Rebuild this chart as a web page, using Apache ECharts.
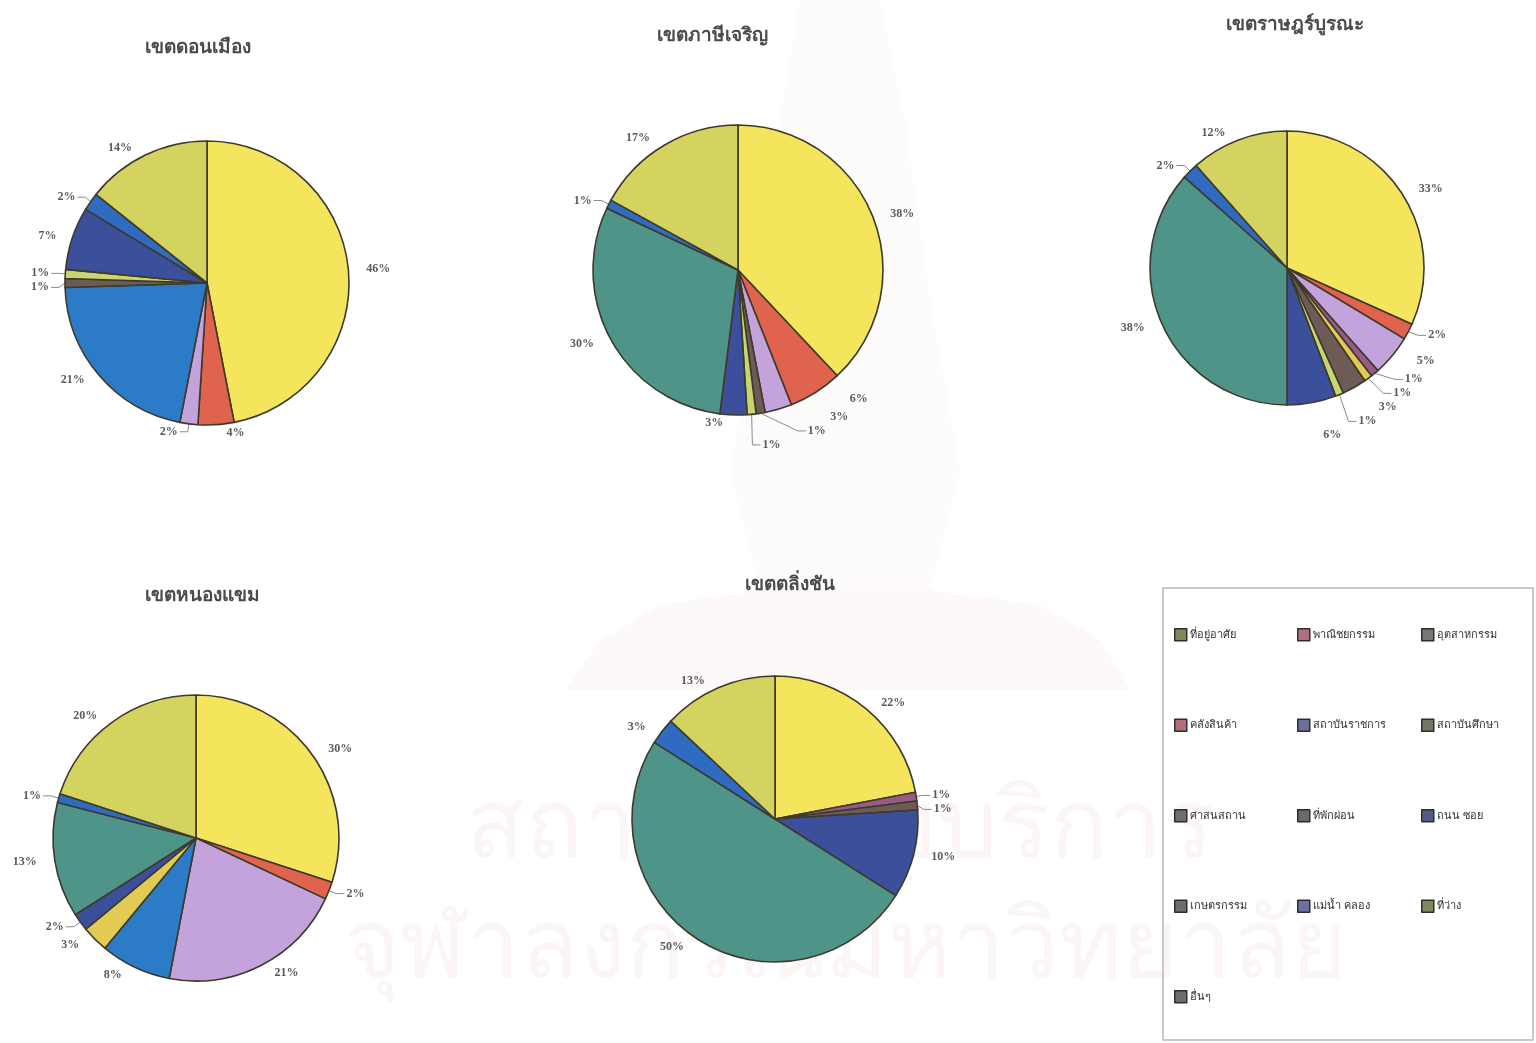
<!DOCTYPE html>
<html>
<head>
<meta charset="utf-8">
<script src="https://cdn.jsdelivr.net/npm/echarts@6/dist/echarts.min.js"></script>
<style>
  html, body { margin: 0; padding: 0; background: #ffffff; }
  #chart { width: 1536px; height: 1043px; }
</style>
</head>
<body>
<div id="chart"></div>
<script>
// Land-use categories (legend order = slice order, clockwise from 12 o'clock)
const categories = [
  'ที่อยู่อาศัย', 'พาณิชยกรรม', 'อุตสาหกรรม',
  'คลังสินค้า', 'สถาบันราชการ', 'สถาบันศึกษา',
  'ศาสนสถาน', 'ที่พักผ่อน', 'ถนน ซอย',
  'เกษตรกรรม', 'แม่น้ำ คลอง', 'ที่ว่าง',
  'อื่นๆ'
];

// Share of each land use (%) per district, in category order
const donMueang    = [46, 4, 2, 0, 21, 0, 1, 1, 7, 0, 2, 14, 0];
const phasiCharoen = [38, 6, 3, 0, 0, 0, 1, 1, 3, 30, 1, 17, 0];
const ratBurana    = [33, 2, 5, 1, 0, 1, 3, 1, 6, 38, 2, 12, 0];
const nongKhaem    = [30, 2, 21, 0, 8, 3, 0, 0, 2, 13, 1, 20, 0];
const talingChan   = [22, 0, 0, 1, 0, 0, 1, 0, 10, 50, 3, 13, 0];

const districtNames = ['เขตดอนเมือง', 'เขตภาษีเจริญ', 'เขตราษฎร์บูรณะ', 'เขตหนองแขม', 'เขตตลิ่งชัน'];
const districtValues = [donMueang, phasiCharoen, ratBurana, nongKhaem, talingChan];

// Slice fill per category
const sliceColors = [
  '#f4e55c', '#e0634d', '#c4a3dc',
  '#9a5a86', '#2b7bc6', '#e1cb52',
  '#6f5b55', '#c7d66f', '#3b4f9b',
  '#4f9488', '#2f6bc0', '#d5d360',
  '#8a8a8a'
];
// Legend swatches (printed legend is muted)
const legendColors = [
  '#7f8a5a', '#b2707e', '#747a70',
  '#b46e7e', '#6c6e9a', '#737866',
  '#6e706c', '#6a6c66', '#55598a',
  '#6b6f6a', '#6f6fa8', '#7a8a5a',
  '#6d6d6d'
];

// Pie placement: center, radius and title position
const pieLayout = [
  { c: [207, 283], r: 142, t: [193, 45] },
  { c: [738, 270], r: 145, t: [707, 33] },
  { c: [1287, 268], r: 137, t: [1290, 22] },
  { c: [196, 838], r: 143, t: [197, 593] },
  { c: [775, 819], r: 143, t: [785, 582] }
];

const FONT = '"Noto Sans", "DejaVu Sans", sans-serif';

function buildData(values) {
  return values.map((v, i) => ({
    name: categories[i],
    value: v,
    itemStyle: {
      color: sliceColors[i],
      borderWidth: v === 0 ? 0 : 1.6
    },
    label: { show: v > 0 },
    labelLine: { show: v > 0 && v <= 2 }
  }));
}

const series = districtValues.map((vals, k) => ({
  type: 'pie',
  name: districtNames[k],
  center: pieLayout[k].c,
  radius: [0, pieLayout[k].r],
  startAngle: 90,
  clockwise: true,
  avoidLabelOverlap: true,
  minShowLabelAngle: 0,
  itemStyle: { borderColor: '#3d3a2c', borderWidth: 1.6 },
  label: {
    position: 'outside',
    formatter: '{c}%',
    color: '#5a5a5a',
    fontFamily: '"Liberation Serif", "DejaVu Serif", serif',
    fontSize: 12,
    fontWeight: 'bold',
    distanceToLabelLine: 2
  },
  labelLine: {
    length: 8,
    length2: 8,
    lineStyle: { color: '#8a8a8a', width: 1 }
  },
  emphasis: { disabled: true },
  data: buildData(vals)
}));

// Legend: three columns inside a framed box
const legendColumns = [
  [0, 3, 6, 9, 12],
  [1, 4, 7, 10],
  [2, 5, 8, 11]
];
const legendX = [1174, 1297, 1421];
const legends = legendColumns.map((col, j) => ({
  orient: 'vertical',
  left: legendX[j],
  top: 628,
  padding: 0,
  itemWidth: 12,
  itemHeight: 12,
  itemGap: 77,
  icon: 'rect',
  selectedMode: false,
  textStyle: { fontFamily: FONT, fontSize: 11, color: '#333333', padding: [0, 0, 0, -2] },
  data: col.map(i => ({
    name: categories[i],
    itemStyle: { color: legendColors[i], borderColor: '#2e2e2e', borderWidth: 1.5 }
  }))
}));

const titles = districtNames.map((n, k) => ({
  text: n,
  left: pieLayout[k].t[0],
  top: pieLayout[k].t[1] - 12,
  textAlign: 'center',
  textStyle: { fontFamily: FONT, fontSize: 19, fontWeight: 'bold', color: '#4a4a4a' }
}));

// Faint institutional watermark behind the charts
const wmFill = 'rgba(215, 110, 110, 0.065)';
const watermark = [
  {
    type: 'polygon', z: -20,
    shape: { points: [[565, 690], [600, 640], [660, 605], [760, 590], [930, 590], [1040, 605], [1100, 640], [1130, 690]] },
    style: { fill: 'rgba(215, 110, 110, 0.045)', shadowBlur: 40, shadowColor: 'rgba(215, 110, 110, 0.06)' }
  },
  {
    type: 'polygon', z: -20,
    shape: { points: [[800, 0], [880, 0], [905, 120], [930, 300], [960, 470], [930, 590], [760, 590], [730, 470], [760, 300], [780, 120]] },
    style: { fill: 'rgba(215, 110, 110, 0.028)', shadowBlur: 40, shadowColor: 'rgba(215, 110, 110, 0.05)' }
  },
  {
    type: 'text', z: -10,
    style: {
      x: 840, y: 830, text: 'สถาบันวิทยบริการ', textAlign: 'center', textVerticalAlign: 'middle',
      font: '96px ' + FONT, fill: wmFill
    }
  },
  {
    type: 'text', z: -10,
    style: {
      x: 845, y: 950, text: 'จุฬาลงกรณ์มหาวิทยาลัย', textAlign: 'center', textVerticalAlign: 'middle',
      font: '96px ' + FONT, fill: wmFill
    }
  }
];

const chart = echarts.init(document.getElementById('chart'));
chart.setOption({
  backgroundColor: '#ffffff',
  animation: false,
  title: titles,
  legend: legends,
  graphic: watermark.concat([
    {
      type: 'rect', z: -5,
      shape: { x: 1163, y: 588, width: 370, height: 452 },
      style: { fill: 'none', stroke: '#b8b8b8', lineWidth: 1.5 }
    }
  ]),
  series: series
});
</script>
</body>
</html>
